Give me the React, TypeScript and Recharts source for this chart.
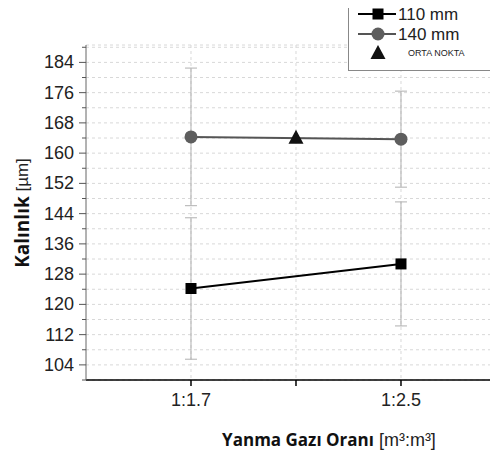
import { ComposedChart, Line, Scatter, XAxis, YAxis, CartesianGrid, ErrorBar, Legend, Label } from 'recharts';

// x categories (numeric positions on the axis)
const categories = ['1:1.7', '1:2.5'];
const categoryX = [1, 3];

// 110 mm series
const thickness110 = [124.2, 130.7];
const error110 = [18.7, 16.4];

// 140 mm series
const thickness140 = [164.3, 163.7];
const error140 = [18.2, 12.7];

// ORTA NOKTA (centre point)
const midX = [2];
const midValue = [164.1];

const xTicks = [1, 2, 3];
const yTicks = [100, 104, 108, 112, 116, 120, 124, 128, 132, 136, 140, 144, 148, 152, 156, 160, 164, 168, 172, 176, 180, 184, 188];
const yLabelTicks = [104, 112, 120, 128, 136, 144, 152, 160, 168, 176, 184];

const data110 = categoryX.map((x, i) => ({ x, y: thickness110[i], err: error110[i] }));
const data140 = categoryX.map((x, i) => ({ x, y: thickness140[i], err: error140[i] }));
const dataMid = midX.map((x, i) => ({ x, y: midValue[i] }));

const tickFont = '"Liberation Sans", Arial, sans-serif';
const boldFont = '"Open Sans", "DejaVu Sans", sans-serif';

const YTick = ({ x, y, payload }: any) => {
  const major = yLabelTicks.includes(payload.value);
  return (
    <g>
      <line x1={x - (major ? 7 : 4)} x2={x} y1={y} y2={y} stroke="#555" strokeWidth={1} />
      {major && (
        <text x={x - 12} y={y} textAnchor="end" dominantBaseline="central" fontSize={18} fontFamily={tickFont} fill="#222">
          {payload.value}
        </text>
      )}
    </g>
  );
};

const xTickLabel = (v: number) => {
  const i = categoryX.indexOf(v);
  return i >= 0 ? categories[i] : '';
};

const Square = (p: any) => {
  if (p.cx == null || p.cy == null) return <g key={p.key} />;
  return <rect key={p.key} x={p.cx - 5.5} y={p.cy - 5.5} width={11} height={11} fill="#000" />;
};

const Circle = (p: any) => {
  if (p.cx == null || p.cy == null) return <g key={p.key} />;
  return <circle key={p.key} cx={p.cx} cy={p.cy} r={6.5} fill="#5e5e5e" />;
};

const Triangle = (p: any) => {
  const { cx, cy } = p;
  return <polygon points={`${cx},${cy - 8} ${cx - 7.5},${cy + 6} ${cx + 7.5},${cy + 6}`} fill="#111" />;
};

const renderLegend = () => (
  <svg width={160} height={72} style={{ display: 'block' }}>
    <rect x={0.5} y={0.5} width={170} height={71} fill="#fff" stroke="#888" strokeWidth={1} />
    <line x1={10} x2={48} y1={15} y2={15} stroke="#000" strokeWidth={2} />
    <rect x={24.5} y={9.5} width={11} height={11} fill="#000" />
    <text x={50} y={15} dominantBaseline="central" fontSize={17} fontFamily={tickFont} fill="#222">110 mm</text>
    <line x1={10} x2={48} y1={35} y2={35} stroke="#555" strokeWidth={2} />
    <circle cx={30} cy={35} r={6.5} fill="#5e5e5e" />
    <text x={50} y={35} dominantBaseline="central" fontSize={17} fontFamily={tickFont} fill="#222">140 mm</text>
    <polygon points="30,46 22.5,60 37.5,60" fill="#111" />
    <text x={60} y={54} dominantBaseline="central" fontSize={9} fontFamily={tickFont} fill="#222">ORTA NOKTA</text>
  </svg>
);

export default function App() {
  return (
    <ComposedChart width={490} height={443} margin={{ top: 37, right: 0, bottom: 41, left: 0 }}>
      <CartesianGrid strokeDasharray="3 3" stroke="#d8d8d8" verticalValues={xTicks} />
      <XAxis
        dataKey="x"
        type="number"
        domain={[0, 3.924]}
        ticks={xTicks}
        allowDataOverflow
        tickFormatter={xTickLabel}
        height={30}
        stroke="#000"
        strokeWidth={1.5}
        tickSize={6}
        tickMargin={7}
        tick={{ fontSize: 18, fontFamily: tickFont, fill: '#222' }}
      >
        <Label
          content={() => (
            <text x={321} y={438} textAnchor="middle">
              <tspan fontFamily={boldFont} fontWeight={700} fontSize={17} fill="#111">Yanma Gazı Oranı</tspan>
              <tspan fontFamily={tickFont} fontSize={18} fill="#222"> [m³:m³]</tspan>
            </text>
          )}
        />
      </XAxis>
      <YAxis
        type="number"
        domain={[100, 188.6]}
        ticks={yTicks}
        allowDataOverflow
        width={78}
        stroke="#666"
        tickSize={0}
        tickMargin={0}
        tickLine={false}
        tick={<YTick />}
        interval={0}
      >
        <Label
          content={() => (
            <text x={14} y={205} textAnchor="middle" dominantBaseline="central" transform="rotate(-90 14 205)">
              <tspan fontFamily={boldFont} fontWeight={700} fontSize={19} fill="#111">Kalınlık</tspan>
              <tspan fontFamily={tickFont} fontSize={17} fill="#222"> [µm]</tspan>
            </text>
          )}
        />
      </YAxis>
      <Legend
        layout="horizontal"
        verticalAlign="middle"
        align="center"
        content={renderLegend}
        wrapperStyle={{ position: 'absolute', left: 340, top: -9, width: 160, height: 72 }}
      />
      <Line
        data={data110}
        dataKey="y"
        name="110 mm"
        stroke="#000"
        strokeWidth={2}
        dot={Square}
        activeDot={false}
        isAnimationActive={false}
      >
        <ErrorBar dataKey="err" width={6} stroke="#b0b0b0" strokeWidth={1} direction="y" />
      </Line>
      <Line
        data={data140}
        dataKey="y"
        name="140 mm"
        stroke="#555"
        strokeWidth={2}
        dot={Circle}
        activeDot={false}
        isAnimationActive={false}
      >
        <ErrorBar dataKey="err" width={6} stroke="#b0b0b0" strokeWidth={1} direction="y" />
      </Line>
      <Scatter data={dataMid} dataKey="y" name="ORTA NOKTA" shape={Triangle} isAnimationActive={false} />
    </ComposedChart>
  );
}
